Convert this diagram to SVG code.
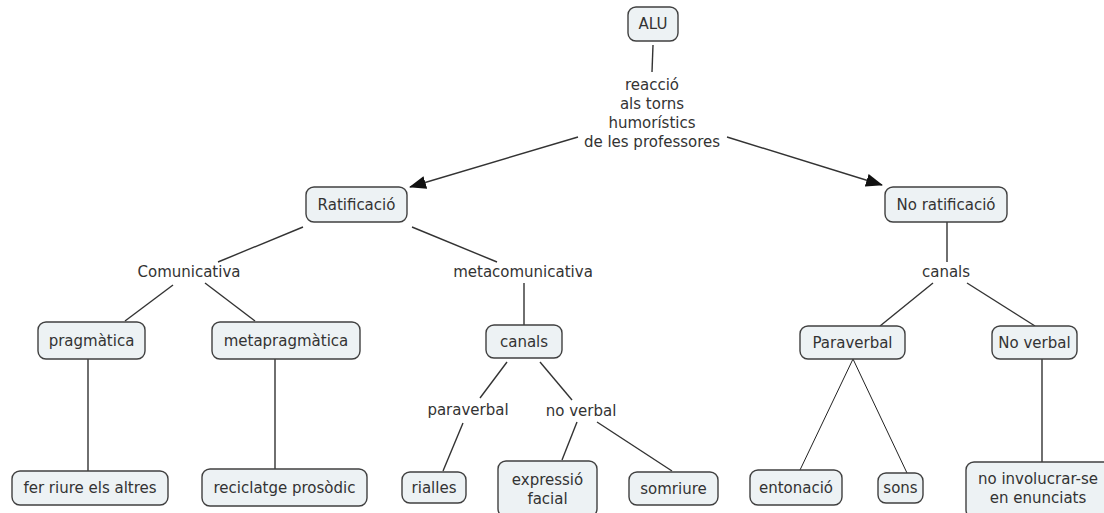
<svg xmlns="http://www.w3.org/2000/svg" width="1104" height="513" viewBox="0 0 1104 513">
  <style>
    .box { fill: #edf2f4; stroke: #404040; stroke-width: 1.4; }
    .t { font-family: "DejaVu Sans", Verdana, sans-serif; font-size: 15px; fill: #333333; text-anchor: middle; dominant-baseline: central; }
    .ln { stroke: #333333; stroke-width: 1.4; fill: none; }
    .thin { stroke: #222222; stroke-width: 1; fill: none; }
  </style>
  <defs>
    <marker id="arrow" markerUnits="userSpaceOnUse" markerWidth="17" markerHeight="13" refX="16" refY="6.5" orient="auto">
      <path d="M0,0 L17,6.5 L0,13 z" fill="#111111"/>
    </marker>
  </defs>
  <rect width="1104" height="513" fill="#ffffff"/>

  <!-- connectors -->
  <g id="connectors">
    <line class="ln" x1="653" y1="45" x2="652" y2="72"/>
    <line class="ln" x1="578" y1="137" x2="410" y2="187" marker-end="url(#arrow)"/>
    <line class="ln" x1="727" y1="137" x2="882" y2="185" marker-end="url(#arrow)"/>
    <line class="ln" x1="303" y1="227" x2="218" y2="262"/>
    <line class="ln" x1="412" y1="227" x2="497" y2="262"/>
    <line class="ln" x1="173" y1="285" x2="125" y2="321"/>
    <line class="ln" x1="205" y1="283" x2="255" y2="321"/>
    <line class="ln" x1="524" y1="283" x2="524" y2="325"/>
    <line class="ln" x1="507" y1="362" x2="480" y2="398"/>
    <line class="ln" x1="540" y1="362" x2="572" y2="400"/>
    <line class="ln" x1="463" y1="423" x2="443" y2="471"/>
    <line class="ln" x1="577" y1="422" x2="562" y2="460"/>
    <line class="ln" x1="597" y1="422" x2="672" y2="471"/>
    <line class="ln" x1="88" y1="359" x2="88" y2="471"/>
    <line class="ln" x1="275" y1="359" x2="275" y2="469"/>
    <line class="ln" x1="947" y1="222" x2="947" y2="262"/>
    <line class="ln" x1="933" y1="283" x2="880" y2="326"/>
    <line class="ln" x1="967" y1="283" x2="1035" y2="326"/>
    <line class="thin" x1="853" y1="359" x2="800" y2="470"/>
    <line class="thin" x1="853" y1="359" x2="907" y2="473"/>
    <line class="ln" x1="1042" y1="359" x2="1042" y2="462"/>
  </g>

  <!-- linking phrases -->
  <g id="link-reaccio">
    <text class="t" x="652" y="85">reacció</text>
    <text class="t" x="652" y="104">als torns</text>
    <text class="t" x="652" y="123">humorístics</text>
    <text class="t" x="652" y="142">de les professores</text>
  </g>
  <g id="link-comunicativa"><text class="t" x="189" y="272">Comunicativa</text></g>
  <g id="link-metacomunicativa"><text class="t" x="523" y="272">metacomunicativa</text></g>
  <g id="link-paraverbal"><text class="t" x="468" y="410">paraverbal</text></g>
  <g id="link-noverbal"><text class="t" x="581" y="411">no verbal</text></g>
  <g id="link-canals-right"><text class="t" x="946" y="272">canals</text></g>

  <!-- concepts -->
  <g id="alu"><rect class="box" x="628" y="7" width="50" height="34" rx="8"/><text class="t" x="653" y="24">ALU</text></g>
  <g id="ratificacio"><rect class="box" x="306" y="187" width="101" height="35" rx="8"/><text class="t" x="356.5" y="204.5">Ratificació</text></g>
  <g id="no-ratificacio"><rect class="box" x="885" y="187" width="122" height="35" rx="8"/><text class="t" x="946" y="204.5">No ratificació</text></g>
  <g id="pragmatica"><rect class="box" x="38" y="322" width="107" height="37" rx="8"/><text class="t" x="91.5" y="340.5">pragmàtica</text></g>
  <g id="metapragmatica"><rect class="box" x="212" y="322" width="148" height="37" rx="8"/><text class="t" x="286" y="340.5">metapragmàtica</text></g>
  <g id="canals"><rect class="box" x="486" y="325" width="76" height="33" rx="8"/><text class="t" x="524" y="341.5">canals</text></g>
  <g id="paraverbal"><rect class="box" x="800" y="326" width="105" height="33" rx="8"/><text class="t" x="852.5" y="342.5">Paraverbal</text></g>
  <g id="no-verbal"><rect class="box" x="992" y="326" width="85" height="33" rx="8"/><text class="t" x="1034.5" y="342.5">No verbal</text></g>
  <g id="fer-riure"><rect class="box" x="12" y="471" width="156" height="34" rx="8"/><text class="t" x="90" y="488">fer riure els altres</text></g>
  <g id="reciclatge"><rect class="box" x="202" y="469" width="165" height="37" rx="8"/><text class="t" x="284.5" y="487.5">reciclatge prosòdic</text></g>
  <g id="rialles"><rect class="box" x="402" y="472" width="64" height="31" rx="8"/><text class="t" x="434" y="487.5">rialles</text></g>
  <g id="expressio"><rect class="box" x="498" y="461" width="99" height="56" rx="8"/><text class="t" x="547.5" y="480">expressió</text><text class="t" x="547.5" y="499">facial</text></g>
  <g id="somriure"><rect class="box" x="629" y="472" width="89" height="33" rx="8"/><text class="t" x="673.5" y="488.5">somriure</text></g>
  <g id="entonacio"><rect class="box" x="750" y="470" width="92" height="35" rx="8"/><text class="t" x="796" y="487.5">entonació</text></g>
  <g id="sons"><rect class="box" x="878" y="473" width="45" height="30" rx="8"/><text class="t" x="900.5" y="488">sons</text></g>
  <g id="no-involucrar"><rect class="box" x="966" y="462" width="146" height="56" rx="8"/><text class="t" x="1038" y="479">no involucrar-se</text><text class="t" x="1038" y="498">en enunciats</text></g>
</svg>
